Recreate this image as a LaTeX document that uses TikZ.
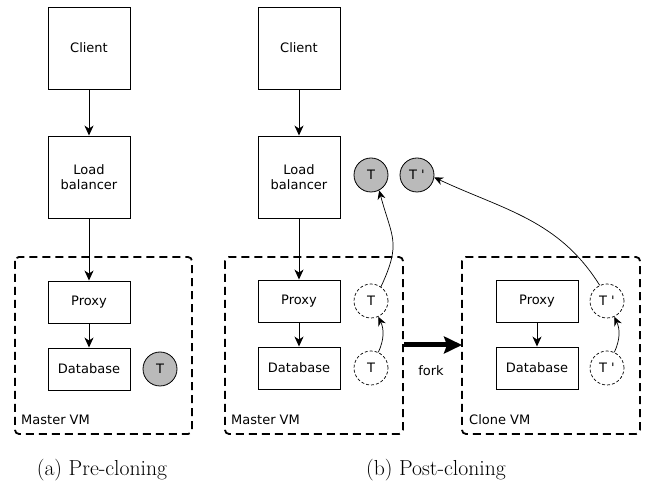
\documentclass[tikz,border=0pt]{standalone}
\usepackage{fontspec}
\newfontfamily\dv{DejaVu Sans}[Ligatures=TeXOff]
\usetikzlibrary{arrows.meta}
\begin{document}
\begin{tikzpicture}[x=1pt,y=-1pt,
  every node/.style={font=\dv\fontsize{13}{15}\selectfont},
  bigbox/.style={draw, line width=0.9pt, minimum width=82pt, minimum height=82pt, align=center, inner sep=0pt},
  smallbox/.style={draw, line width=0.9pt, minimum width=82pt, minimum height=42pt, inner sep=0pt},
  vmbox/.style={draw, line width=1.8pt, dash pattern=on 8pt off 5pt, rounded corners=4pt},
  graytok/.style={circle, draw, line width=0.8pt, fill=black!27, minimum size=34pt, inner sep=0pt},
  dashtok/.style={circle, draw, line width=0.7pt, dash pattern=on 3pt off 2pt, minimum size=34pt, inner sep=0pt},
  flow/.style={line width=0.9pt, -{Stealth[length=10pt,width=9pt,inset=3pt]}},
  mig/.style={line width=0.7pt, -{Stealth[length=9pt,width=8pt,inset=3pt]}},
  vmlabel/.style={anchor=west, inner sep=0pt},
  caption/.style={font=\fontsize{21.7}{26}\selectfont}
]
\useasboundingbox (0,0) rectangle (649,486);

% ---------- (a) ----------
\node[bigbox] (clientA) at (89,48) {Client};
\node[bigbox] (lbA) at (89,177) {Load\\balancer};
\node[smallbox] (proxyA) at (89,302) {Proxy};
\node[smallbox] (dbA) at (89,369) {Database};
\node[graytok] (TA) at (160,369) {T};
\draw[vmbox] (15,257) rectangle (192,434);
\node[vmlabel] (mvmA) at (21,420) {Master VM};
\draw[flow] (clientA) -- (lbA);
\draw[flow] (lbA) -- (proxyA);
\draw[flow] (proxyA) -- (dbA);
\node[caption] (capA) at (102,470) {(a) Pre-cloning};

% ---------- (b) ----------
\node[bigbox] (clientB) at (299,48) {Client};
\node[bigbox] (lbB) at (299,177) {Load\\balancer};
\node[smallbox] (proxyB) at (299,301) {Proxy};
\node[smallbox] (dbB) at (299,368) {Database};
\node[dashtok] (dTp) at (371,301) {T};
\node[dashtok] (dTd) at (371,368) {T};
\node[graytok] (gT) at (371,175) {T};
\node[graytok] (gTc) at (417,175) {T '};
\draw[vmbox] (225,257) rectangle (403,434);
\node[vmlabel] (mvmB) at (231,420) {Master VM};
\draw[flow] (clientB) -- (lbB);
\draw[flow] (lbB) -- (proxyB);
\draw[flow] (proxyB) -- (dbB);
\draw[mig] (dTd.65) to[bend right=25] (dTp.-65);
\draw[mig] (dTp.55) to[out=65,in=-75,looseness=1.3] (gT.-62);

% clone
\draw[vmbox] (462,257) rectangle (640,434);
\node[vmlabel] (cvm) at (469,420) {Clone VM};
\node[smallbox] (proxyC) at (537,301) {Proxy};
\node[smallbox] (dbC) at (537,368) {Database};
\node[dashtok] (dTcp) at (607,301) {T '};
\node[dashtok] (dTcd) at (607,368) {T '};
\draw[flow] (proxyC) -- (dbC);
\draw[mig] (dTcd.65) to[bend right=25] (dTcp.-65);
\draw[mig] (dTcp.115) to[out=122,in=-25] (gTc.-8);

% fork
\coordinate (fs) at (404,345);
\coordinate (fe) at (462,345);
\draw[line width=5pt, -{Stealth[length=18pt,width=17pt,inset=3pt]}] (fs) -- (fe);
\node (forkl) at (431,371) {fork};

\node[caption] (capB) at (436,470) {(b) Post-cloning};
\end{tikzpicture}
\end{document}
